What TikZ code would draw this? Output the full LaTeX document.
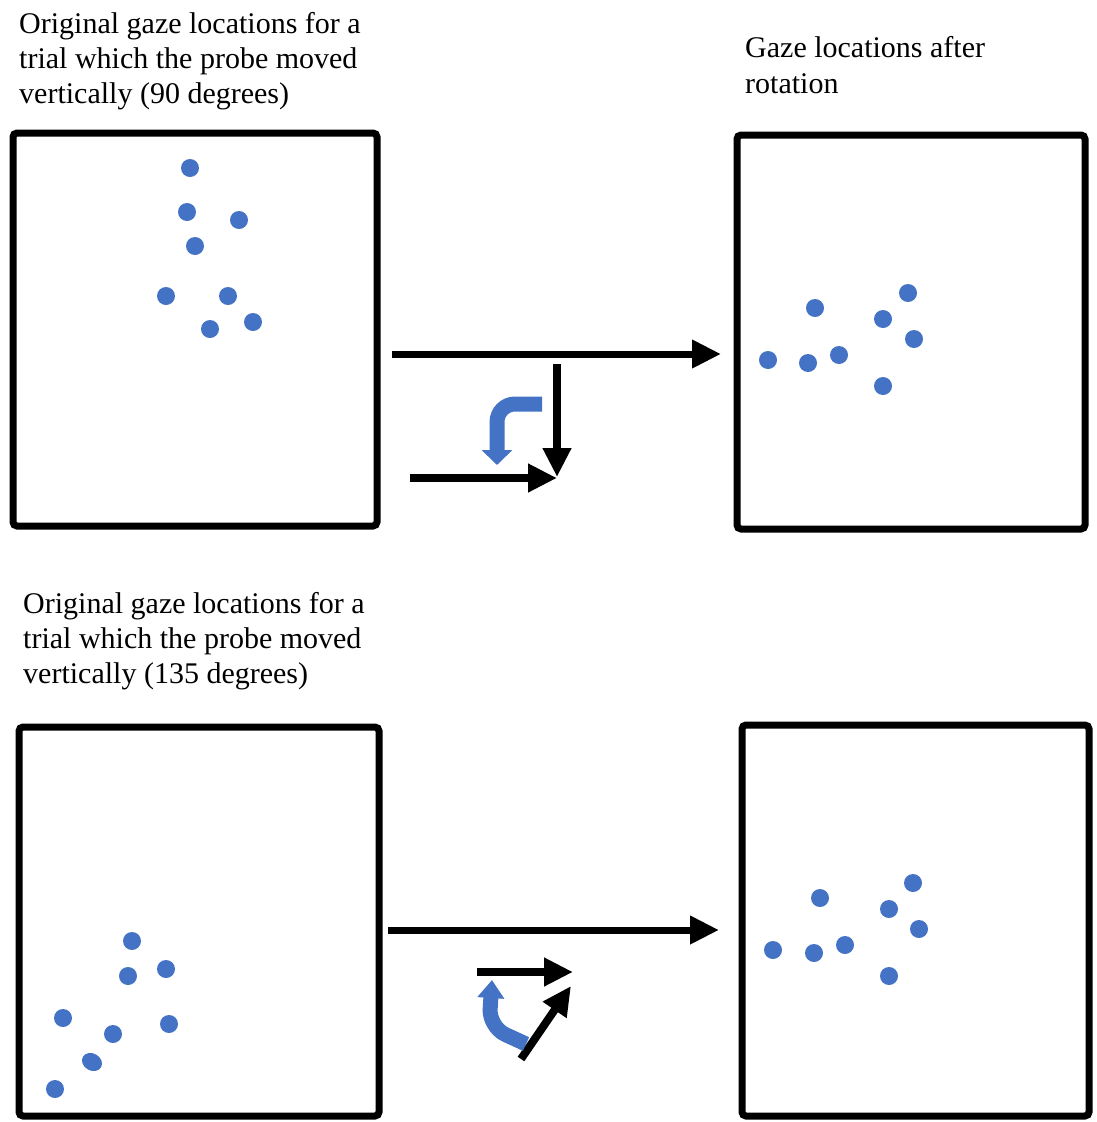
\documentclass[tikz,border=0pt]{standalone}
\usepackage{fontspec}
\setmainfont{Liberation Serif}
\usetikzlibrary{arrows.meta}
\definecolor{dotblue}{HTML}{4472C4}
\tikzset{
  panel/.style={draw=black, line width=7pt, rounded corners=4pt},
  gaze/.style={fill=dotblue},
  caption/.style={anchor=base west, inner sep=0pt, font=\fontsize{30}{35}\selectfont},
  longarrow/.style={draw=black, line width=7pt, -{Triangle[length=29pt,width=27pt]}},
  shortarrow/.style={draw=black, line width=8pt, -{Triangle[length=29pt,width=27pt]}},
  turnarrow/.style={draw=dotblue, line width=15pt, rounded corners=18pt},
}
\begin{document}
\begin{tikzpicture}[x=1pt,y=-1pt]
\useasboundingbox (0,0) rectangle (1097,1122);

% captions
\node[caption] (t1a) at (19,33)  {Original gaze locations for a};
\node[caption] (t1b) at (19,68)  {trial which the probe moved};
\node[caption] (t1c) at (19,103) {vertically (90 degrees)};
\node[caption] (t2a) at (745,57) {Gaze locations after};
\node[caption] (t2b) at (745,93) {rotation};
\node[caption] (t3a) at (23,613) {Original gaze locations for a};
\node[caption] (t3b) at (23,648) {trial which the probe moved};
\node[caption] (t3c) at (23,683) {vertically (135 degrees)};

% panels
\draw[panel] (13,133) rectangle (377,526);
\draw[panel] (737,135) rectangle (1085,529);
\draw[panel] (19,727) rectangle (379,1116);
\draw[panel] (742,725) rectangle (1089,1116);

% gaze points, 90 degree trial
\foreach \p in {(190,168),(187,212),(239,220),(195,246),(166,296),(228,296),(210,329),(253,322)}
  \fill[gaze] \p circle (9);
% gaze points after rotation (top)
\foreach \p in {(815,308),(908,293),(883,319),(914,339),(768,360),(808,363),(839,355),(883,386)}
  \fill[gaze] \p circle (9);
% gaze points, 135 degree trial
\foreach \p in {(132,941),(128,976),(166,969),(63,1018),(113,1034),(55,1089),(169,1024)}
  \fill[gaze] \p circle (9);
\fill[gaze] (92,1062) ellipse [x radius=10.5, y radius=8.5, rotate=-30];
% gaze points after rotation (bottom)
\foreach \p in {(820,898),(913,883),(889,909),(919,929),(773,950),(814,953),(845,945),(889,976)}
  \fill[gaze] \p circle (9);

% rotation arrows, 90 degrees
\coordinate (a1s) at (392,354);
\coordinate (a1e) at (721,354);
\draw[longarrow] (a1s) -- (a1e);
\coordinate (v1s) at (557,364);
\coordinate (v1e) at (557,477);
\draw[shortarrow] (v1s) -- (v1e);
\coordinate (h1s) at (410,478);
\coordinate (h1e) at (557,478);
\draw[shortarrow] (h1s) -- (h1e);
\coordinate (b1s) at (542,404);
\coordinate (b1c) at (497,404);
\coordinate (b1e) at (497,465);
\draw[turnarrow, -{Triangle[length=15pt,width=30pt]}] (b1s) -- (b1c) -- (b1e);

% rotation arrows, 135 degrees
\coordinate (a2s) at (388,930);
\coordinate (a2e) at (719,930);
\draw[longarrow] (a2s) -- (a2e);
\coordinate (h2s) at (477,972);
\coordinate (h2e) at (573,972);
\draw[shortarrow] (h2s) -- (h2e);
\coordinate (d2s) at (521,1059);
\coordinate (d2e) at (571,986);
\draw[shortarrow] (d2s) -- (d2e);
\coordinate (b2s) at (526,1044);
\coordinate (b2c) at (489,1027);
\coordinate (b2e) at (492,980);
\draw[turnarrow, -{Triangle[length=18pt,width=26pt]}] (b2s) -- (b2c) -- (b2e);
\end{tikzpicture}
\end{document}
